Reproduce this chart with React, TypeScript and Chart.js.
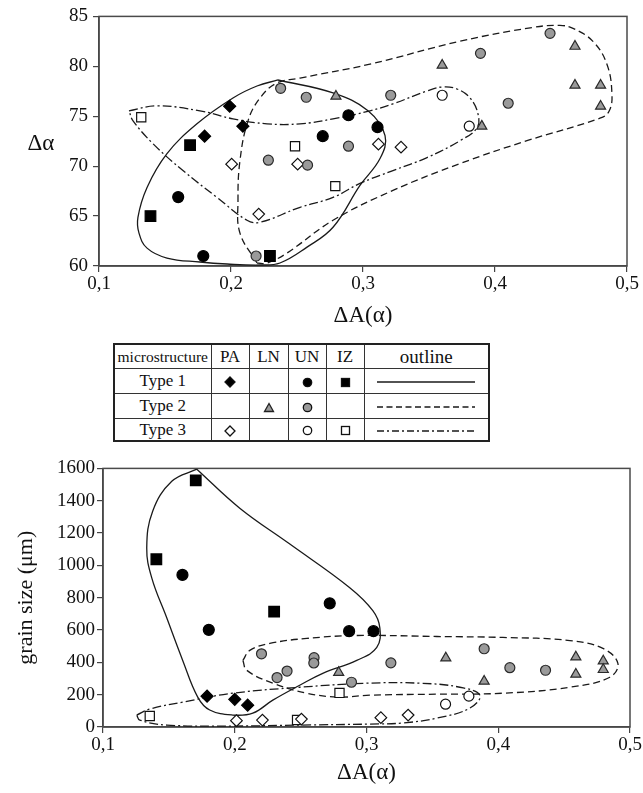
import React, { useEffect, useRef } from 'react';
import { Chart, registerables } from 'chart.js';

Chart.register(...registerables);

const SERIF = '"Liberation Serif", "Times New Roman", serif';

// ---------- Top chart: ΔA(α) vs Δα ----------
const topT1PA_x = [0.199, 0.209, 0.180];
const topT1PA_y = [76.0, 74.0, 73.0];
const topT1UN_x = [0.160, 0.179, 0.2695, 0.289, 0.311];
const topT1UN_y = [66.9, 61.0, 73.0, 75.1, 73.9];
const topT1IZ_x = [0.169, 0.139, 0.2295];
const topT1IZ_y = [72.1, 65.0, 61.0];
const topT2LN_x = [0.2795, 0.36, 0.39, 0.4606, 0.4606, 0.48, 0.48];
const topT2LN_y = [77.0, 80.1, 74.0, 82.0, 78.1, 78.1, 76.0];
const topT2UN_x = [0.219, 0.2376, 0.257, 0.289, 0.2283, 0.258, 0.321, 0.389, 0.4417, 0.41];
const topT2UN_y = [61.0, 77.8, 76.9, 72.0, 70.6, 70.1, 77.1, 81.3, 83.3, 76.3];
const topT3PA_x = [0.2005, 0.221, 0.2505, 0.3117, 0.3288];
const topT3PA_y = [70.2, 65.2, 70.2, 72.2, 71.9];
const topT3UN_x = [0.36, 0.3805];
const topT3UN_y = [77.1, 74.0];
const topT3IZ_x = [0.132, 0.2485, 0.279];
const topT3IZ_y = [74.9, 72.0, 68.0];

// outlines (top)
const topOut1_x = [0.2356, 0.2773, 0.3038, 0.3167, 0.3129, 0.2977, 0.2773, 0.2576, 0.2371, 0.222, 0.197, 0.1765, 0.1515, 0.1364, 0.1303, 0.1295, 0.1364, 0.1515, 0.1742, 0.2015, 0.2197, 0.2356];
const topOut1_y = [78.63, 77.33, 75.54, 73.05, 70.76, 68.07, 63.88, 61.89, 60.3, 60.1, 60.2, 60.4, 60.8, 61.79, 63.29, 64.88, 67.87, 71.25, 74.24, 76.83, 78.03, 78.63];
const topOut2_x = [0.2197, 0.2068, 0.2053, 0.2068, 0.2129, 0.222, 0.2348, 0.2523, 0.3053, 0.3735, 0.4288, 0.4492, 0.4591, 0.4742, 0.4848, 0.4886, 0.4864, 0.4795, 0.4242, 0.3735, 0.3227, 0.2773, 0.2424, 0.2273, 0.2197];
const topOut2_y = [60.3, 63.29, 66.57, 70.56, 74.54, 76.83, 78.33, 78.82, 80.22, 82.51, 83.9, 84.1, 83.8, 82.5, 80.2, 77.2, 75.5, 74.8, 72.55, 70.26, 67.57, 64.58, 61.3, 60.3, 60.3];
const topOut3_x = [0.1227, 0.1439, 0.1765, 0.2015, 0.2273, 0.2523, 0.2773, 0.3053, 0.3227, 0.3485, 0.3598, 0.3712, 0.3811, 0.3871, 0.3864, 0.3735, 0.3485, 0.3227, 0.2977, 0.2773, 0.2523, 0.222, 0.2121, 0.1894, 0.1636, 0.1409, 0.1258, 0.1227];
const topOut3_y = [75.54, 76.04, 75.54, 74.74, 74.24, 74.24, 74.74, 75.54, 76.24, 77.53, 77.93, 77.73, 76.83, 75.24, 73.84, 72.55, 70.86, 69.56, 68.27, 66.87, 65.88, 64.38, 64.58, 66.87, 69.56, 72.25, 74.54, 75.54];

// ---------- Bottom chart: ΔA(α) vs grain size ----------
const botT1PA_x = [0.179, 0.200, 0.2098];
const botT1PA_y = [191, 171, 135];
const botT1UN_x = [0.1603, 0.1803, 0.2721, 0.2868, 0.3053];
const botT1UN_y = [941, 601, 765, 593, 593];
const botT1IZ_x = [0.1704, 0.1405, 0.2299];
const botT1IZ_y = [1526, 1038, 714];
const botT2LN_x = [0.2789, 0.3602, 0.3893, 0.4589, 0.4589, 0.4797, 0.4797];
const botT2LN_y = [337, 427, 283, 433, 326, 408, 355];
const botT2UN_x = [0.2203, 0.2602, 0.26, 0.2397, 0.2321, 0.2886, 0.3185, 0.3893, 0.4088, 0.4359];
const botT2UN_y = [453, 429, 396, 346, 306, 277, 397, 484, 367, 351];
const botT3PA_x = [0.2013, 0.221, 0.2506, 0.3109, 0.3316];
const botT3PA_y = [39, 43, 49, 58, 74];
const botT3UN_x = [0.36, 0.3777];
const botT3UN_y = [141, 191];
const botT3IZ_x = [0.1355, 0.2473, 0.2795];
const botT3IZ_y = [68, 43, 211];

// outlines (bottom)
const botOut1_x = [0.1712, 0.2038, 0.2418, 0.2873, 0.3048, 0.3101, 0.3078, 0.2926, 0.2668, 0.2493, 0.2289, 0.2137, 0.1985, 0.181, 0.1719, 0.1605, 0.1483, 0.137, 0.1332, 0.1377, 0.1522, 0.1712];
const botOut1_y = [1595, 1354, 1132, 862, 720, 615, 492, 412, 332, 258, 166, 86, 74, 105, 185, 412, 677, 923, 1108, 1335, 1520, 1595];
const botOut2_x = [0.2062, 0.2114, 0.2266, 0.2547, 0.2926, 0.3534, 0.4035, 0.4544, 0.4794, 0.4908, 0.4847, 0.4544, 0.4035, 0.3534, 0.3025, 0.2797, 0.2547, 0.2289, 0.2091, 0.2062];
const botOut2_y = [412, 474, 517, 548, 566, 560, 554, 535, 486, 394, 308, 246, 209, 203, 197, 185, 209, 271, 351, 412];
const botOut3_x = [0.1256, 0.1355, 0.1605, 0.1985, 0.2494, 0.3002, 0.3405, 0.3709, 0.3861, 0.3785, 0.3534, 0.3276, 0.3025, 0.2494, 0.1985, 0.1484, 0.1279, 0.1256];
const botOut3_y = [74, 111, 154, 209, 246, 271, 271, 246, 197, 117, 55, 25, 18, 12, 6, 12, 43, 74];

const zip = (xs: number[], ys: number[]) => xs.map((x, i) => ({ x, y: ys[i] }));

type Sty = { ps: string; r: number; bg: string; bd: string };
const S_T1PA: Sty = { ps: 'rectRot', r: 6, bg: '#000', bd: '#000' };
const S_T1UN: Sty = { ps: 'circle', r: 5.5, bg: '#000', bd: '#000' };
const S_T1IZ: Sty = { ps: 'rect', r: 7.5, bg: '#000', bd: '#000' };
const S_T2LN: Sty = { ps: 'triangle', r: 5.8, bg: '#9a9a9a', bd: '#2a2a2a' };
const S_T2UN: Sty = { ps: 'circle', r: 5, bg: '#9a9a9a', bd: '#2a2a2a' };
const S_T3PA: Sty = { ps: 'rectRot', r: 5.8, bg: '#fff', bd: '#111' };
const S_T3UN: Sty = { ps: 'circle', r: 5, bg: '#fff', bd: '#111' };
const S_T3IZ: Sty = { ps: 'rect', r: 6.5, bg: '#fff', bd: '#111' };

const pts = (xs: number[], ys: number[], s: Sty) => ({
  data: zip(xs, ys),
  pointStyle: s.ps,
  pointRadius: s.r,
  pointBackgroundColor: s.bg,
  pointBorderColor: s.bd,
  pointBorderWidth: 1.2,
  backgroundColor: s.bg,
  borderColor: s.bd,
  showLine: false,
  order: 0,
});

const outline = (xs: number[], ys: number[], dash: number[]) => ({
  data: zip(xs, ys),
  showLine: true,
  tension: 0.4,
  borderColor: '#1a1a1a',
  borderWidth: 1.3,
  borderDash: dash,
  pointRadius: 0,
  fill: false,
  order: 10,
});

const DASH_SOLID: number[] = [];
const DASH_DASHED = [7, 4];
const DASH_DOTDASH = [9, 3, 2, 3];

const fmtX = (v: any) => Number(v).toFixed(1).replace('.', ',');
const fmtY = (v: any) => String(Math.round(Number(v)));

const boxPlugin = {
  id: 'boxPlugin',
  beforeDatasetsDraw(chart: any) {
    const { ctx, chartArea: a } = chart;
    ctx.save();
    ctx.strokeStyle = '#4a4a4a';
    ctx.lineWidth = 1.5;
    ctx.strokeRect(a.left, a.top, a.right - a.left, a.bottom - a.top);
    ctx.restore();
  },
};

const topYTitlePlugin = {
  id: 'topYTitle',
  afterDraw(chart: any) {
    const ctx = chart.ctx;
    ctx.save();
    ctx.font = `23px ${SERIF}`;
    ctx.fillStyle = '#111';
    ctx.textAlign = 'center';
    ctx.textBaseline = 'middle';
    ctx.fillText('Δα', 41, 144);
    ctx.restore();
  },
};

function makeOptions(o: {
  yMin: number; yMax: number; yStep: number; yWidth: number; yPad: number;
  xHeight: number; padding: any; yTitle: string | null;
}) {
  return {
    responsive: false,
    animation: false as const,
    events: [] as any[],
    layout: { padding: o.padding },
    plugins: { legend: { display: false }, tooltip: { enabled: false } },
    scales: {
      x: {
        type: 'linear' as const,
        min: 0.1,
        max: 0.5,
        ticks: {
          stepSize: 0.1,
          callback: fmtX,
          font: { family: SERIF, size: 19 },
          color: '#111',
          padding: 1,
          maxRotation: 0,
          autoSkip: false,
        },
        grid: { drawOnChartArea: false, drawTicks: true, tickLength: 6, color: '#444', lineWidth: 1.2 },
        border: { display: true, color: '#444', width: 1.5 },
        title: {
          display: true,
          text: 'ΔA(α)',
          font: { family: SERIF, size: 23 },
          color: '#111',
          padding: { top: 0, bottom: 0 },
        },
        afterFit: (s: any) => { s.height = o.xHeight; },
      },
      y: {
        type: 'linear' as const,
        min: o.yMin,
        max: o.yMax,
        ticks: {
          stepSize: o.yStep,
          callback: fmtY,
          font: { family: SERIF, size: 19 },
          color: '#111',
          padding: o.yPad,
        },
        grid: { drawOnChartArea: false, drawTicks: true, tickLength: 6, color: '#444', lineWidth: 1.2 },
        border: { display: true, color: '#444', width: 1.5 },
        title: o.yTitle
          ? {
              display: true,
              text: o.yTitle,
              font: { family: SERIF, size: 22 },
              color: '#111',
              padding: { top: 13, bottom: 0 },
            }
          : { display: false },
        afterFit: (s: any) => { s.width = o.yWidth; },
      },
    },
  };
}

function Sym({ kind }: { kind: string }) {
  const st = { display: 'inline-block', verticalAlign: 'middle' } as React.CSSProperties;
  if (kind === 'dBlack' || kind === 'dOpen') {
    return (
      <svg width={12} height={12} style={st}>
        <polygon points="6,1 11,6 6,11 1,6" fill={kind === 'dBlack' ? '#000' : '#fff'} stroke="#111" strokeWidth={1.3} />
      </svg>
    );
  }
  if (kind === 'cBlack' || kind === 'cGrey' || kind === 'cOpen') {
    const f = kind === 'cBlack' ? '#000' : kind === 'cGrey' ? '#9a9a9a' : '#fff';
    return (
      <svg width={11} height={11} style={st}>
        <circle cx={5.5} cy={5.5} r={4.2} fill={f} stroke="#111" strokeWidth={1.3} />
      </svg>
    );
  }
  if (kind === 'sBlack' || kind === 'sOpen') {
    return (
      <svg width={11} height={11} style={st}>
        <rect x={1.5} y={1.5} width={8} height={8} fill={kind === 'sBlack' ? '#000' : '#fff'} stroke="#111" strokeWidth={1.3} />
      </svg>
    );
  }
  if (kind === 'tGrey') {
    return (
      <svg width={12} height={11} style={st}>
        <polygon points="6,1.5 10.5,9.5 1.5,9.5" fill="#9a9a9a" stroke="#222" strokeWidth={1.3} />
      </svg>
    );
  }
  return null;
}

function LineSample({ dash }: { dash?: string }) {
  return (
    <svg width={98} height={6} style={{ display: 'inline-block', verticalAlign: 'middle' }}>
      <line x1={0} y1={3} x2={98} y2={3} stroke="#1a1a1a" strokeWidth={1.4} strokeDasharray={dash} />
    </svg>
  );
}

function LegendTable() {
  const td: React.CSSProperties = {
    border: '1px solid #333',
    padding: 0,
    textAlign: 'center',
    verticalAlign: 'middle',
    lineHeight: 1,
  };
  const colW = [97, 38, 39, 38, 38, 125];
  return (
    <table
      style={{
        position: 'absolute',
        left: 113,
        top: 343,
        width: 375,
        height: 97,
        borderCollapse: 'collapse',
        tableLayout: 'fixed',
        border: '2px solid #222',
        fontFamily: SERIF,
        color: '#111',
        fontSize: 17,
      }}
    >
      <colgroup>
        {colW.map((w, i) => <col key={i} style={{ width: w }} />)}
      </colgroup>
      <tbody>
        <tr style={{ height: 24 }}>
          <td style={{ ...td, fontSize: 15.5, whiteSpace: 'nowrap', overflow: 'hidden' }}>microstructure</td>
          <td style={td}>PA</td>
          <td style={td}>LN</td>
          <td style={td}>UN</td>
          <td style={td}>IZ</td>
          <td style={{ ...td, fontSize: 19 }}>outline</td>
        </tr>
        <tr style={{ height: 25 }}>
          <td style={td}>Type 1</td>
          <td style={td}><Sym kind="dBlack" /></td>
          <td style={td}></td>
          <td style={td}><Sym kind="cBlack" /></td>
          <td style={td}><Sym kind="sBlack" /></td>
          <td style={td}><LineSample /></td>
        </tr>
        <tr style={{ height: 25 }}>
          <td style={td}>Type 2</td>
          <td style={td}></td>
          <td style={td}><Sym kind="tGrey" /></td>
          <td style={td}><Sym kind="cGrey" /></td>
          <td style={td}></td>
          <td style={td}><LineSample dash="6 3.5" /></td>
        </tr>
        <tr style={{ height: 23 }}>
          <td style={td}>Type 3</td>
          <td style={td}><Sym kind="dOpen" /></td>
          <td style={td}></td>
          <td style={td}><Sym kind="cOpen" /></td>
          <td style={td}><Sym kind="sOpen" /></td>
          <td style={td}><LineSample dash="7 3 2 3" /></td>
        </tr>
      </tbody>
    </table>
  );
}

export default function App() {
  const topRef = useRef<HTMLCanvasElement>(null);
  const botRef = useRef<HTMLCanvasElement>(null);

  useEffect(() => {
    const top = new Chart(topRef.current as HTMLCanvasElement, {
      type: 'scatter',
      data: {
        datasets: [
          outline(topOut1_x, topOut1_y, DASH_SOLID),
          outline(topOut2_x, topOut2_y, DASH_DASHED),
          outline(topOut3_x, topOut3_y, DASH_DOTDASH),
          pts(topT2UN_x, topT2UN_y, S_T2UN),
          pts(topT2LN_x, topT2LN_y, S_T2LN),
          pts(topT3PA_x, topT3PA_y, S_T3PA),
          pts(topT3UN_x, topT3UN_y, S_T3UN),
          pts(topT3IZ_x, topT3IZ_y, S_T3IZ),
          pts(topT1PA_x, topT1PA_y, S_T1PA),
          pts(topT1UN_x, topT1UN_y, S_T1UN),
          pts(topT1IZ_x, topT1IZ_y, S_T1IZ),
        ] as any,
      },
      options: makeOptions({
        yMin: 60, yMax: 85, yStep: 5, yWidth: 99, yPad: 5, xHeight: 64,
        padding: { top: 15, right: 16, bottom: 0, left: 0 }, yTitle: null,
      }) as any,
      plugins: [boxPlugin, topYTitlePlugin],
    });

    const bot = new Chart(botRef.current as HTMLCanvasElement, {
      type: 'scatter',
      data: {
        datasets: [
          outline(botOut1_x, botOut1_y, DASH_SOLID),
          outline(botOut2_x, botOut2_y, DASH_DASHED),
          outline(botOut3_x, botOut3_y, DASH_DOTDASH),
          pts(botT2UN_x, botT2UN_y, S_T2UN),
          pts(botT2LN_x, botT2LN_y, S_T2LN),
          pts(botT3PA_x, botT3PA_y, S_T3PA),
          pts(botT3UN_x, botT3UN_y, S_T3UN),
          pts(botT3IZ_x, botT3IZ_y, S_T3IZ),
          pts(botT1PA_x, botT1PA_y, S_T1PA),
          pts(botT1UN_x, botT1UN_y, S_T1UN),
          pts(botT1IZ_x, botT1IZ_y, S_T1IZ),
        ] as any,
      },
      options: makeOptions({
        yMin: 0, yMax: 1600, yStep: 200, yWidth: 103, yPad: 2, xHeight: 60,
        padding: { top: 12, right: 13, bottom: 6, left: 0 }, yTitle: 'grain size (μm)',
      }) as any,
      plugins: [boxPlugin],
    });

    return () => {
      top.destroy();
      bot.destroy();
    };
  }, []);

  return (
    <div style={{ position: 'absolute', left: 0, top: 0, width: 643, height: 793, background: '#fff', overflow: 'hidden' }}>
      <canvas
        ref={topRef}
        width={643}
        height={330}
        style={{ position: 'absolute', left: 0, top: 0, width: 643, height: 330 }}
      />
      <LegendTable />
      <canvas
        ref={botRef}
        width={643}
        height={338}
        style={{ position: 'absolute', left: 0, top: 455, width: 643, height: 338 }}
      />
    </div>
  );
}
